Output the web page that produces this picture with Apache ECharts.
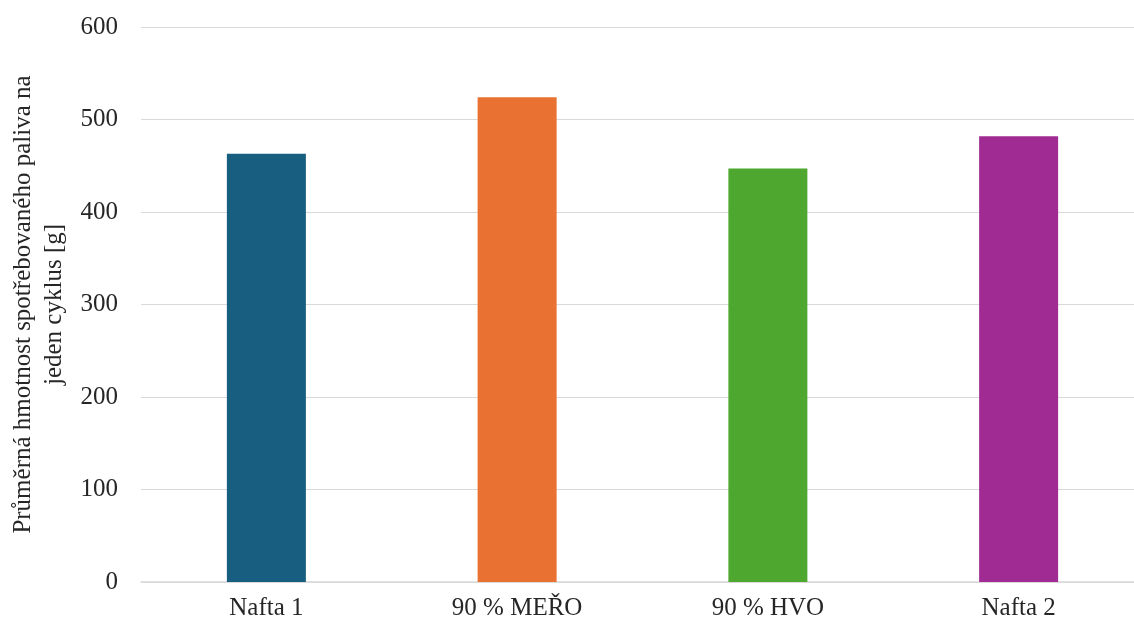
<!DOCTYPE html>
<html>
<head>
<meta charset="utf-8">
<script src="https://cdn.jsdelivr.net/npm/echarts@6/dist/echarts.min.js"></script>
<style>html,body{margin:0;padding:0;background:#fff}#c{width:1134px;height:623px}</style>
</head>
<body>
<div id="c"></div>
<script>
const categories = ['Nafta 1', '90 % MEŘO', '90 % HVO', 'Nafta 2'];
const values = [463, 524, 447, 482];
const colors = ['#175E80', '#E97132', '#4EA72E', '#A02B93'];
const yTicks = [0, 100, 200, 300, 400, 500, 600];
const yTitle = 'Průměrná hmotnost spotřebovaného paliva na\njeden cyklus [g]';

const chart = echarts.init(document.getElementById('c'), null, {renderer: 'canvas'});
const font = 'Liberation Serif';
chart.setOption({
  animation: false,
  grid: {left: 141, right: -10, top: 27, bottom: 41, containLabel: false, outerBoundsMode: 'none'},
  xAxis: {
    type: 'category',
    data: categories,
    axisLine: {lineStyle: {color: '#D9D9D9', width: 1.5}},
    axisTick: {show: false},
    axisLabel: {color: '#262626', fontFamily: font, fontSize: 25, margin: 14}
  },
  yAxis: {
    type: 'value',
    min: yTicks[0], max: yTicks[yTicks.length - 1], interval: 100,
    name: yTitle,
    nameLocation: 'middle',
    nameGap: 70,
    nameTextStyle: {color: '#262626', fontFamily: font, fontSize: 25, lineHeight: 31},
    axisLine: {show: false},
    axisTick: {show: false},
    splitLine: {lineStyle: {color: '#D9D9D9', width: 1.2}},
    axisLabel: {color: '#262626', fontFamily: font, fontSize: 25, margin: 23}
  },
  series: [{
    type: 'bar',
    barWidth: 79,
    data: values.map((v, i) => ({value: v, itemStyle: {color: colors[i]}}))
  }]
});
</script>
</body>
</html>
